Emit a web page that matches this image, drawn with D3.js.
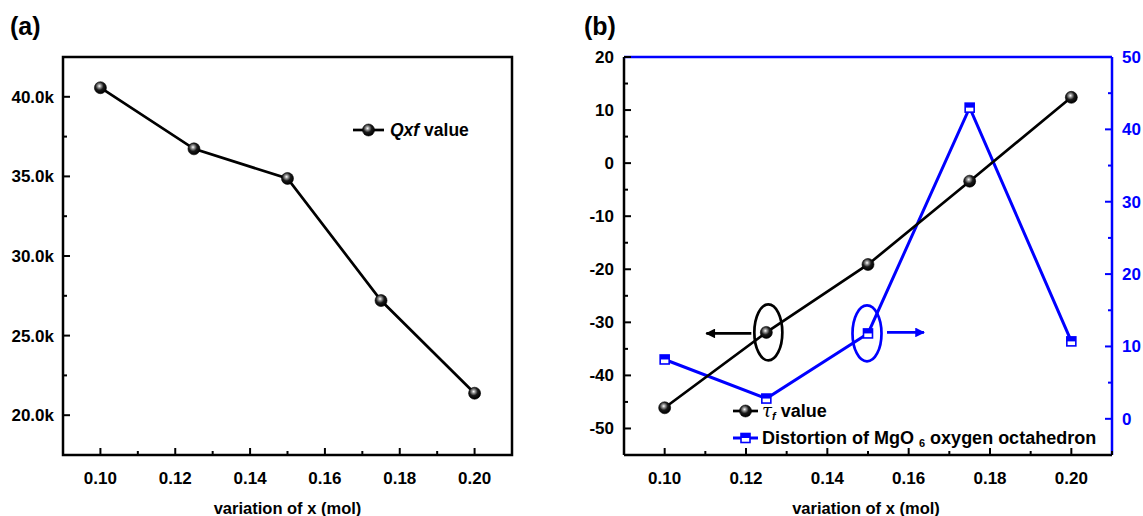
<!DOCTYPE html>
<html>
<head>
<meta charset="utf-8">
<script src="https://cdn.jsdelivr.net/npm/d3@7"></script>
<style>
  body { margin: 0; background: #fff; }
  svg text { font-family: "Liberation Sans", Arial, sans-serif; font-weight: bold; }
</style>
</head>
<body>
<div id="chart"></div>
<script>
// data
var xValues = [0.100, 0.125, 0.150, 0.175, 0.200];
var qxfValues = [40570, 36730, 34870, 27200, 21380];
var tauValues = [-46.1, -31.9, -19.1, -3.4, 12.4];
var distortionValues = [8.2, 2.8, 11.8, 43.0, 10.7];
var xTicks = [0.10, 0.12, 0.14, 0.16, 0.18, 0.20];
var qxfTicks = [20000, 25000, 30000, 35000, 40000];
var tauTicks = [-50, -40, -30, -20, -10, 0, 10, 20];
var distTicks = [0, 10, 20, 30, 40, 50];

var width = 1143, height = 516;
var blue = '#0000ff';
var fs = 17;

var svg = d3.select('#chart').append('svg')
    .attr('width', width)
    .attr('height', height);

// sphere gradient for the round markers
var defs = svg.append('defs');
var grad = defs.append('radialGradient')
    .attr('id', 'sphere')
    .attr('cx', '42%').attr('cy', '36%').attr('r', '62%');
grad.append('stop').attr('offset', '0%').attr('stop-color', '#ffffff');
grad.append('stop').attr('offset', '22%').attr('stop-color', '#9a9a9a');
grad.append('stop').attr('offset', '55%').attr('stop-color', '#1a1a1a');
grad.append('stop').attr('offset', '100%').attr('stop-color', '#000000');

var arrowDefs = [['arrowBlack', '#000'], ['arrowBlue', blue]];
arrowDefs.forEach(function(a) {
    defs.append('marker')
        .attr('id', a[0])
        .attr('viewBox', '0 0 10 10')
        .attr('refX', 9).attr('refY', 5)
        .attr('markerWidth', 4.5).attr('markerHeight', 3.6)
        .attr('orient', 'auto')
        .append('path')
        .attr('d', 'M0,0 L10,5 L0,10 z')
        .attr('fill', a[1]);
});

function sphere(g, x, y) {
    g.append('circle')
        .attr('cx', x).attr('cy', y).attr('r', 6)
        .attr('fill', 'url(#sphere)')
        .attr('stroke', '#000').attr('stroke-width', 0.6);
}

function halfSquare(g, x, y) {
    var s = 9;
    g.append('rect')
        .attr('x', x - s / 2).attr('y', y - s / 2)
        .attr('width', s).attr('height', s)
        .attr('fill', '#fff');
    g.append('rect')
        .attr('x', x - s / 2).attr('y', y - s / 2)
        .attr('width', s).attr('height', s / 2)
        .attr('fill', blue);
    g.append('rect')
        .attr('x', x - s / 2).attr('y', y - s / 2)
        .attr('width', s).attr('height', s)
        .attr('fill', 'none')
        .attr('stroke', blue).attr('stroke-width', 1.6);
}

// draw tick marks (inward) for an axis
function ticks(g, scale, values, orient, pos, len, color) {
    values.forEach(function(v) {
        var p = scale(v);
        var line = g.append('line').attr('stroke', color).attr('stroke-width', 2);
        if (orient === 'bottom') line.attr('x1', p).attr('x2', p).attr('y1', pos).attr('y2', pos - len);
        if (orient === 'left') line.attr('y1', p).attr('y2', p).attr('x1', pos).attr('x2', pos + len);
        if (orient === 'right') line.attr('y1', p).attr('y2', p).attr('x1', pos).attr('x2', pos - len);
    });
}

function minors(values) {
    var out = [];
    for (var i = 0; i < values.length - 1; i++) out.push((values[i] + values[i + 1]) / 2);
    return out;
}

// ---------- panel (a) ----------
var a = { left: 63, top: 57, right: 512, bottom: 455 };
var xA = d3.scaleLinear().domain([0.09, 0.21]).range([a.left, a.right]);
var yA = d3.scaleLinear().domain([17500, 42500]).range([a.bottom, a.top]);
var gA = svg.append('g');

gA.append('rect')
    .attr('x', a.left).attr('y', a.top)
    .attr('width', a.right - a.left).attr('height', a.bottom - a.top)
    .attr('fill', 'none').attr('stroke', '#000').attr('stroke-width', 2.5);

ticks(gA, xA, xTicks, 'bottom', a.bottom, 7, '#000');
ticks(gA, xA, minors(xTicks.concat([0.22])), 'bottom', a.bottom, 4, '#000');
ticks(gA, yA, qxfTicks, 'left', a.left, 7, '#000');
ticks(gA, yA, minors([15000].concat(qxfTicks, [45000])).filter(function(v) { return v > 17500 && v < 42500; }), 'left', a.left, 4, '#000');

gA.selectAll('.xl').data(xTicks).enter().append('text')
    .attr('x', function(d) { return xA(d); })
    .attr('y', a.bottom + 29)
    .attr('text-anchor', 'middle')
    .attr('font-size', fs)
    .text(function(d) { return d3.format('.2f')(d); });

gA.selectAll('.yl').data(qxfTicks).enter().append('text')
    .attr('x', a.left - 9)
    .attr('y', function(d) { return yA(d) + 6; })
    .attr('text-anchor', 'end')
    .attr('font-size', fs)
    .text(function(d) { return d3.format('.1f')(d / 1000) + 'k'; });

var lineA = d3.line()
    .x(function(d, i) { return xA(xValues[i]); })
    .y(function(d) { return yA(d); });
gA.append('path').datum(qxfValues)
    .attr('d', lineA)
    .attr('fill', 'none').attr('stroke', '#000').attr('stroke-width', 2.7);
qxfValues.forEach(function(v, i) { sphere(gA, xA(xValues[i]), yA(v)); });

// legend (a)
gA.append('line').attr('x1', 353).attr('x2', 384).attr('y1', 130).attr('y2', 130)
    .attr('stroke', '#000').attr('stroke-width', 2.7);
sphere(gA, 368.5, 130);
var legA = gA.append('text').attr('x', 390).attr('y', 136).attr('font-size', 17.5);
legA.append('tspan').attr('font-style', 'italic').text('Qxf');
legA.append('tspan').text(' value');

gA.append('text').attr('x', 10).attr('y', 35).attr('font-size', 25).text('(a)');
gA.append('text').attr('x', (a.left + a.right) / 2 + 0).attr('y', 514)
    .attr('text-anchor', 'middle').attr('font-size', 16.5).text('variation of x (mol)');

// ---------- panel (b) ----------
var b = { left: 624, top: 57, right: 1112, bottom: 455 };
var xB = d3.scaleLinear().domain([0.09, 0.21]).range([b.left, b.right]);
var yB = d3.scaleLinear().domain([-55, 20]).range([b.bottom, b.top]);
var yB2 = d3.scaleLinear().domain([-5, 50]).range([b.bottom, b.top]);
var gB = svg.append('g');

// bottom + left black, top + right blue
gB.append('line').attr('x1', b.left).attr('x2', b.right).attr('y1', b.bottom).attr('y2', b.bottom)
    .attr('stroke', '#000').attr('stroke-width', 2.5);
gB.append('line').attr('x1', b.left).attr('x2', b.left).attr('y1', b.top).attr('y2', b.bottom)
    .attr('stroke', '#000').attr('stroke-width', 2.5);
gB.append('line').attr('x1', b.left).attr('x2', b.right).attr('y1', b.top).attr('y2', b.top)
    .attr('stroke', blue).attr('stroke-width', 2.5);
gB.append('line').attr('x1', b.right).attr('x2', b.right).attr('y1', b.top).attr('y2', b.bottom)
    .attr('stroke', blue).attr('stroke-width', 2.5);

ticks(gB, xB, xTicks, 'bottom', b.bottom, 7, '#000');
ticks(gB, xB, minors(xTicks.concat([0.22])), 'bottom', b.bottom, 4, '#000');
ticks(gB, yB, tauTicks, 'left', b.left, 7, '#000');
ticks(gB, yB, minors(tauTicks), 'left', b.left, 4, '#000');
ticks(gB, yB2, distTicks, 'right', b.right, 7, blue);
ticks(gB, yB2, minors(distTicks), 'right', b.right, 4, blue);

gB.selectAll('.xl').data(xTicks).enter().append('text')
    .attr('x', function(d) { return xB(d); })
    .attr('y', b.bottom + 29)
    .attr('text-anchor', 'middle')
    .attr('font-size', fs)
    .text(function(d) { return d3.format('.2f')(d); });

gB.selectAll('.yl').data(tauTicks).enter().append('text')
    .attr('x', b.left - 10)
    .attr('y', function(d) { return yB(d) + 6; })
    .attr('text-anchor', 'end')
    .attr('font-size', fs)
    .text(function(d) { return d; });

gB.selectAll('.yr').data(distTicks).enter().append('text')
    .attr('x', b.right + 10)
    .attr('y', function(d) { return yB2(d) + 6; })
    .attr('fill', blue)
    .attr('font-size', fs)
    .text(function(d) { return d; });

var lineTau = d3.line()
    .x(function(d, i) { return xB(xValues[i]); })
    .y(function(d) { return yB(d); });
var lineDist = d3.line()
    .x(function(d, i) { return xB(xValues[i]); })
    .y(function(d) { return yB2(d); });

gB.append('path').datum(distortionValues)
    .attr('d', lineDist)
    .attr('fill', 'none').attr('stroke', blue).attr('stroke-width', 3);
gB.append('path').datum(tauValues)
    .attr('d', lineTau)
    .attr('fill', 'none').attr('stroke', '#000').attr('stroke-width', 2.7);
distortionValues.forEach(function(v, i) { halfSquare(gB, xB(xValues[i]), yB2(v)); });
tauValues.forEach(function(v, i) { sphere(gB, xB(xValues[i]), yB(v)); });

// ellipses + arrows pointing to the axes
var pTau = [xB(xValues[1]), yB(tauValues[1])];
gB.append('ellipse').attr('cx', pTau[0] + 2).attr('cy', pTau[1])
    .attr('rx', 14).attr('ry', 28)
    .attr('fill', 'none').attr('stroke', '#000').attr('stroke-width', 2.7);
gB.append('line').attr('x1', pTau[0] - 15).attr('x2', pTau[0] - 60)
    .attr('y1', pTau[1] + 1).attr('y2', pTau[1] + 1)
    .attr('stroke', '#000').attr('stroke-width', 2.7)
    .attr('marker-end', 'url(#arrowBlack)');

var pDist = [xB(xValues[2]), yB2(distortionValues[2])];
gB.append('ellipse').attr('cx', pDist[0] - 1).attr('cy', pDist[1])
    .attr('rx', 14.5).attr('ry', 28)
    .attr('fill', 'none').attr('stroke', blue).attr('stroke-width', 2.7);
gB.append('line').attr('x1', pDist[0] + 19).attr('x2', pDist[0] + 56)
    .attr('y1', pDist[1] - 1).attr('y2', pDist[1] - 1)
    .attr('stroke', blue).attr('stroke-width', 2.7)
    .attr('marker-end', 'url(#arrowBlue)');

// legend (b)
gB.append('line').attr('x1', 733).attr('x2', 758).attr('y1', 411).attr('y2', 411)
    .attr('stroke', '#000').attr('stroke-width', 2.7);
sphere(gB, 745.5, 411);
var legT = gB.append('text').attr('x', 762).attr('y', 417).attr('font-size', 18);
legT.append('tspan').attr('font-family', 'DejaVu Serif').attr('font-style', 'italic').attr('font-weight', 'normal').text('\u03c4');
legT.append('tspan').attr('font-size', 11).attr('font-style', 'italic').attr('dy', 3).text('f');
legT.append('tspan').attr('dy', -3).text(' value');

gB.append('line').attr('x1', 733).attr('x2', 758).attr('y1', 438).attr('y2', 438)
    .attr('stroke', blue).attr('stroke-width', 3);
halfSquare(gB, 745.5, 438);
var legD = gB.append('text').attr('x', 762).attr('y', 444).attr('font-size', 18);
legD.append('tspan').text('Distortion of MgO ');
legD.append('tspan').attr('font-size', 11).attr('dy', 3).text('6');
legD.append('tspan').attr('dy', -3).text(' oxygen octahedron');

gB.append('text').attr('x', 584).attr('y', 35).attr('font-size', 25).text('(b)');
gB.append('text').attr('x', (b.left + b.right) / 2 - 2).attr('y', 514)
    .attr('text-anchor', 'middle').attr('font-size', 16.5).text('variation of x (mol)');
</script>
</body>
</html>
